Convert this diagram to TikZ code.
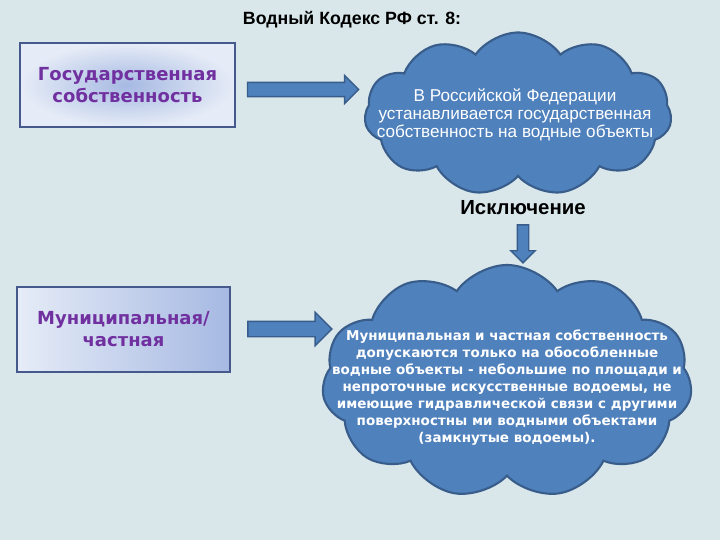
\documentclass[tikz,border=0pt]{standalone}
\usepackage{fontspec}
\setmainfont{Liberation Sans}
\newfontfamily\djv{DejaVu Sans}
\usetikzlibrary{shapes.symbols,shapes.arrows,positioning}

\definecolor{waterbg}{HTML}{D9E7EB}
\definecolor{cloudblue}{HTML}{4F81BD}
\definecolor{cloudline}{HTML}{385D8A}
\definecolor{boxline}{HTML}{46598C}
\definecolor{ownpurple}{HTML}{7030A0}
\definecolor{boxlight}{HTML}{E6ECF7}
\definecolor{boxdark}{HTML}{A6B9E2}

\tikzset{
  ownbox/.style={draw=boxline, line width=1.5pt, align=center,
    text=ownpurple, font=\djv\bfseries\fontsize{12.8}{15.6}\selectfont},
  waterCloud/.style={cloud, cloud puffs=11, cloud puff arc=110,
    cloud ignores aspect, draw=cloudline, line width=1.5pt,
    fill=cloudblue, inner sep=0pt},
  cloudtext/.style={align=center, text=white},
  blockarrow/.style={single arrow, draw=cloudline, fill=cloudblue,
    line width=1pt, inner sep=0pt, minimum width=0pt}
}

\begin{document}
\begin{tikzpicture}[x=0.025cm, y=-0.025cm]
  % фон
  \fill[waterbg] (0,0) rectangle (720,540);
  \useasboundingbox (0,0) rectangle (720,540);

  % заголовок
  \node[font=\bfseries\fontsize{12.6}{14}\selectfont] (title) at (352,20)
    {Водный Кодекс РФ ст. 8:};

  % государственная собственность
  \node[ownbox, minimum width=5.375cm, minimum height=2.1cm,
        inner color=boxdark, outer color=boxlight] (gos) at (127.5,85)
    {Государственная\\собственность};

  % облако: государственная собственность на водные объекты
  \node[waterCloud, minimum width=7.675cm, minimum height=4.075cm] (gosCloud) at (518,114) {};
  \node[cloudtext, font=\fontsize{12.2}{12.8}\selectfont] (gosText) at (515,115)
    {В Российской Федерации\\устанавливается государственная\\собственность на водные объекты};

  \node[blockarrow, minimum height=2.775cm, inner sep=0.16cm,
        single arrow head extend=0.17cm] (gosArrow) at (299.5,89.5) {};

  % исключение
  \node[font=\bfseries\fontsize{14.5}{16}\selectfont] (iskl) at (523,208) {Исключение};
  \node[blockarrow, shape border rotate=270, minimum height=0.95cm, inner sep=0.125cm,
        single arrow head extend=0.16cm] (isklArrow) at (523,241) {};

  % муниципальная / частная собственность
  \node[ownbox, minimum width=5.325cm, minimum height=2.125cm,
        left color=boxlight, right color=boxdark] (mun) at (123.5,329.5)
    {Муниципальная/\\частная};

  \node[blockarrow, minimum height=2.1cm, inner sep=0.175cm,
        single arrow head extend=0.225cm] (munArrow) at (286,329) {};

  % облако: исключение
  \node[waterCloud, minimum width=9.25cm, minimum height=5.825cm] (munCloud) at (507,381.5) {};
  \node[cloudtext, font=\djv\bfseries\fontsize{9.6}{12}\selectfont] (munText) at (507,387.5)
    {Муниципальная и частная собственность\\допускаются только на обособленные\\водные объекты - небольшие по площади и\\непроточные искусственные водоемы, не\\имеющие гидравлической связи с другими\\поверхностны ми водными объектами\\(замкнутые водоемы).};
\end{tikzpicture}
\end{document}
